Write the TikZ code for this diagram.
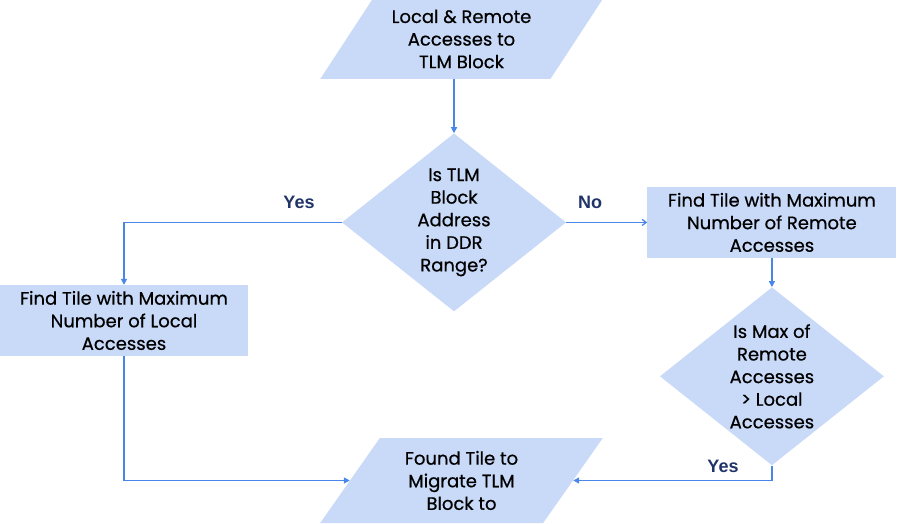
\documentclass[tikz,border=0pt]{standalone}
\usepackage{fontspec}
\setmainfont{Poppins}[UprightFeatures={FakeBold=0.6}]
\newfontfamily\labelfont{Liberation Sans}
\usetikzlibrary{positioning,shapes.geometric,arrows.meta}
\definecolor{boxfill}{RGB}{201,218,248}
\definecolor{flowline}{RGB}{74,134,232}
\definecolor{answer}{RGB}{32,52,104}

\tikzset{
	every node/.style={font=\fontsize{18}{22.6}\selectfont, align=center},
	io/.style={trapezium, trapezium left angle=55, trapezium right angle=125, trapezium stretches=true, fill=boxfill, minimum width=283pt, minimum height=85pt, inner sep=0pt},
	decision/.style={diamond, fill=boxfill, minimum width=224pt, minimum height=178pt, aspect=1.26, inner sep=0pt},
	process/.style={rectangle, fill=boxfill, minimum width=249pt, minimum height=71pt, inner sep=0pt},
	answerlabel/.style={font=\labelfont\bfseries\fontsize{18}{20}\selectfont, text=answer},
	flow/.style={draw=flowline, line width=1.3pt, -{Triangle[length=6pt,width=6pt]}}
}

\begin{document}
\begin{tikzpicture}[x=1pt, y=-1pt]
	\clip (0,0) rectangle (897,524);
	\useasboundingbox (0,0) rectangle (897,524);
	\node[io, minimum height=80pt] (start) at (461.5,39) {Local \& Remote\\Accesses to\\TLM Block};
	\node[decision, below=54pt of start.south, xshift=-7.5pt] (isddr) {Is TLM\\Block\\Address\\in DDR\\Range?};
	\node[process, right=81pt of isddr] (remotemax) {Find Tile with Maximum\\Number of Remote\\Accesses};
	\node[process, minimum width=248pt] (localmax) at (124,320.5) {Find Tile with Maximum\\Number of Local\\Accesses};
	\node[decision, below=29pt of remotemax] (ismore) {Is Max of\\Remote\\Accesses\\> Local\\Accesses};
	\node[io] (found) at (461.5,480.5) {Found Tile to\\Migrate TLM\\Block to};
	
	\node[answerlabel] (yesleft) at (299,202) {Yes};
	\node[answerlabel] (noright) at (590,202) {No};
	\node[answerlabel] (yesdown) at (723,466) {Yes};
	
	\draw[flow] (start.south -| isddr.north) -- (isddr.north);
	\draw[flow] (isddr.west) -| (localmax.north);
	\draw[flow, -{Straight Barb[length=4pt,width=6pt]}] (isddr.east) -- (remotemax.west);
	\draw[flow] (remotemax.south) -- (ismore.north);
	\draw[flow] (localmax.south) |- (found.west);
	\draw[flow] (ismore.south) |- (found.east);
\end{tikzpicture}
\end{document}
